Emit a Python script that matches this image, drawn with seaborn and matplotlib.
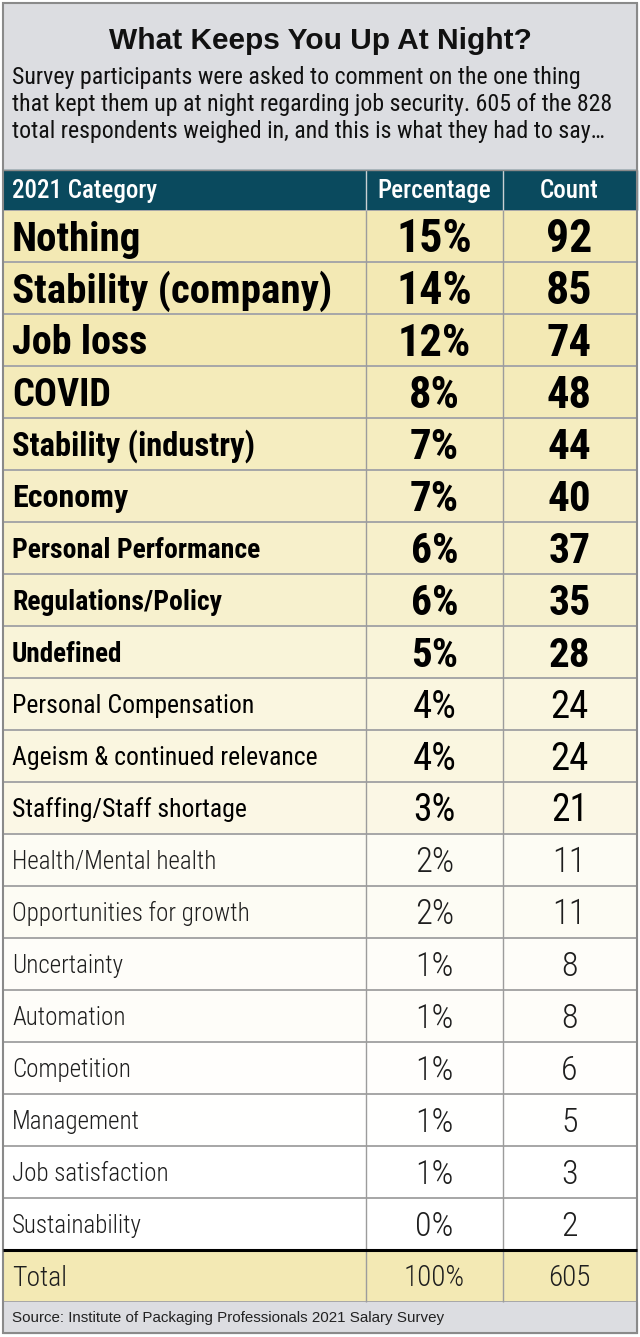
import numpy as np
import pandas as pd
import matplotlib
matplotlib.use("Agg")
import matplotlib.pyplot as plt
from matplotlib.colors import LinearSegmentedColormap
from matplotlib.patches import Rectangle
import seaborn as sns

categories = ["Nothing", "Stability (company)", "Job loss", "COVID",
              "Stability (industry)", "Economy", "Personal Performance",
              "Regulations/Policy", "Undefined", "Personal Compensation",
              "Ageism & continued relevance", "Staffing/Staff shortage",
              "Health/Mental health", "Opportunities for growth", "Uncertainty",
              "Automation", "Competition", "Management", "Job satisfaction",
              "Sustainability"]
percentages = [15, 14, 12, 8, 7, 7, 6, 6, 5, 4, 4, 3, 2, 2, 1, 1, 1, 1, 1, 0]
counts = [92, 85, 74, 48, 44, 40, 37, 35, 28, 24, 24, 21, 11, 11, 8, 8, 6, 5, 3, 2]
total_pct = 100
total_count = 605

title = "What Keeps You Up At Night?"
subtitle = ["Survey participants were asked to comment on the one thing",
            "that kept them up at night regarding job security. 605 of the 828",
            "total respondents weighed in, and this is what they had to say\u2026"]
headers = ["2021 Category", "Percentage", "Count"]
source = "Source: Institute of Packaging Professionals 2021 Salary Survey"

# styles (bigger / heavier type for the top answers)
label_sizes = [29.5, 29.5, 29, 27.5, 23.5, 23, 20, 20, 19.5, 18.5, 18.5, 18.5] + [18] * 8
num_sizes = [33, 33, 32, 32, 31, 31, 30, 30, 29.5, 28, 28, 27, 25, 25] + [24.5] * 6
weights = [700] * 9 + [400] * 3 + [300] * 8
gray_bg = "#dcdde1"
teal = "#0a4a5e"
yellow = "#f3e9b4"
COND = ["Roboto Condensed", "DejaVu Sans"]
SANS = ["Liberation Sans", "DejaVu Sans"]

sns.set_theme(style="white")
plt.rcParams["font.family"] = COND

W, H = 640, 1337
fig = plt.figure(figsize=(W / 100, H / 100), dpi=100)
fig.patch.set_facecolor("white")


def put(ax, x, yc, s, size, weight=400, ha="left", color="black", family=COND, capr=0.711):
    # place text so that its cap height is centred on yc (pixels, y down)
    cap = capr * size * 100 / 72
    ax.text(x, yc + cap / 2, s, fontsize=size, fontweight=weight, ha=ha,
            va="baseline", color=color, family=family)


# back layer: header and source bands
back = fig.add_axes([0, 0, 1, 1], zorder=0)
back.set_xlim(0, W)
back.set_ylim(H, 0)
back.axis("off")
back.add_patch(Rectangle((3, 3), 634, 167, color=gray_bg))
back.add_patch(Rectangle((3, 170), 634, 40, color=teal))
back.add_patch(Rectangle((3, 1302), 634, 31, color=gray_bg))

# table cells shaded by count
tab = fig.add_axes([3 / W, 1 - 1302 / H, 634 / W, 1092 / H], zorder=2)
shade = pd.DataFrame({"count": counts + [total_count]}, index=categories + ["Total"])
cmap = LinearSegmentedColormap.from_list("fade", ["#ffffff", yellow])
sns.heatmap(shade, ax=tab, cmap=cmap, vmin=4, vmax=52, cbar=False,
            linewidths=1.2, linecolor="#a8a8a8",
            xticklabels=False, yticklabels=False)
tab.set_ylabel("")

# front layer: lines and text
front = fig.add_axes([0, 0, 1, 1], zorder=3)
front.set_xlim(0, W)
front.set_ylim(H, 0)
front.axis("off")
front.vlines([366, 503], 210, 1302, color="#9c9c9c", lw=1.0)
front.vlines([366, 503], 170, 210, color="#c9d0d3", lw=1.0)
front.hlines(170, 3, 637, color="#8a8a8a", lw=1.0)
front.hlines(1250, 3, 637, color="black", lw=2.2)
front.add_patch(Rectangle((3, 3), 634, 1330, fill=False, ec="#8a8a8a", lw=1.5))

put(front, 320, 38, title, 21.5, "bold", "center", "#111111", family=SANS, capr=0.716)
for j, line in enumerate(subtitle):
    put(front, 12, 76 + 27 * j, line, 17.2, color="#111111")

put(front, 12, 189, headers[0], 18, 500, color="white")
put(front, 434.5, 189, headers[1], 18, 500, "center", color="white")
put(front, 569.5, 189, headers[2], 18, 500, "center", color="white")

for i, (cat, p, c) in enumerate(zip(categories, percentages, counts)):
    yc = 236 + 52 * i
    col = "black" if i < 12 else "#1e1e1e"
    put(front, 12, yc, cat, label_sizes[i], weights[i], color=col)
    put(front, 434.5, yc, f"{p}%", num_sizes[i], weights[i], "center", col)
    put(front, 569.5, yc, str(c), num_sizes[i], weights[i], "center", col)

put(front, 12, 1276, "Total", 20, 300, color="#1e1e1e")
put(front, 434.5, 1276, f"{total_pct}%", 21, 300, "center", "#1e1e1e")
put(front, 569.5, 1276, str(total_count), 21, 300, "center", "#1e1e1e")

put(front, 12, 1317, source, 10.9, color="#222222", family=SANS, capr=0.716)

fig.savefig("out.png", dpi=100)
